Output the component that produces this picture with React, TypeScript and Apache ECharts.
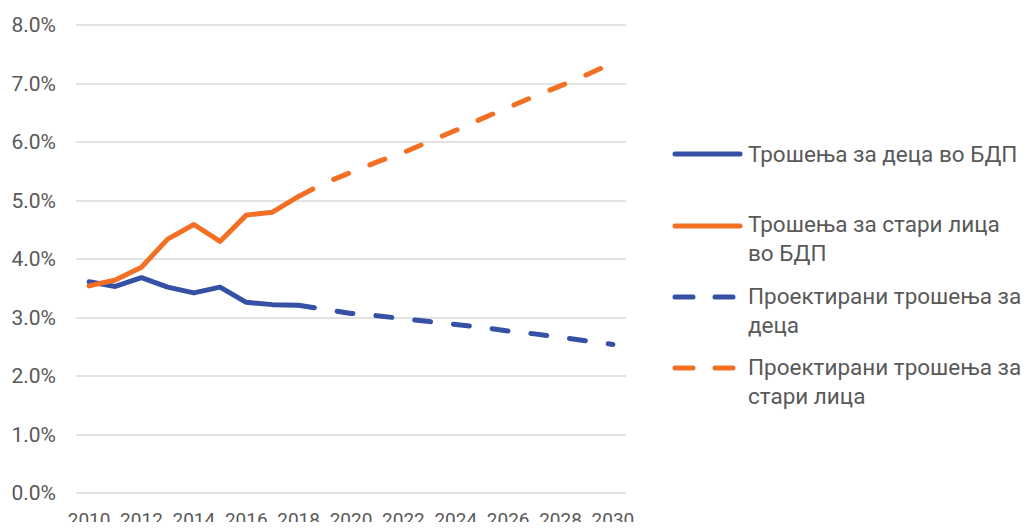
import React, { useEffect, useRef } from "react";
import * as echarts from "echarts";

const years = [
  "2010", "2011", "2012", "2013", "2014", "2015", "2016", "2017", "2018", "2019", "2020",
  "2021", "2022", "2023", "2024", "2025", "2026", "2027", "2028", "2029", "2030",
];

// actual spending (% of GDP), 2010-2018
const childActual = [3.61, 3.53, 3.68, 3.52, 3.42, 3.52, 3.26, 3.22, 3.21];
const elderlyActual = [3.54, 3.64, 3.86, 4.34, 4.59, 4.3, 4.75, 4.8, 5.07];
// projections, 2018-2030
const childProjected = [3.21, 3.14, 3.07, 3.03, 2.98, 2.93, 2.88, 2.83, 2.77, 2.72, 2.66, 2.6, 2.54];
const elderlyProjected = [5.07, 5.3, 5.48, 5.66, 5.82, 6.01, 6.2, 6.4, 6.59, 6.78, 6.96, 7.15, 7.35];

const yTicks = [0, 1, 2, 3, 4, 5, 6, 7, 8];

const seriesNames = [
  "Трошења за деца во БДП",
  "Трошења за стари лица во БДП",
  "Проектирани трошења за деца",
  "Проектирани трошења за стари лица",
];
const legendLabels = [
  "Трошења за деца во БДП",
  "Трошења за стари лица\nво БДП",
  "Проектирани трошења за\nдеца",
  "Проектирани трошења за\nстари лица",
];

const BLUE = "#3550A5";
const ORANGE = "#F36F24";
const TEXT = "#595959";
const FONT = "Roboto, 'Noto Sans', sans-serif";

const padActual = (arr: number[]) => years.map((_, i) => (i < arr.length ? arr[i] : null));
const padProjected = (arr: number[]) => {
  const start = years.length - arr.length;
  return years.map((_, i) => (i >= start ? arr[i - start] : null));
};

export default function App() {
  const ref = useRef<HTMLDivElement>(null);

  useEffect(() => {
    if (!ref.current) return;
    const chart = echarts.init(ref.current, undefined, { renderer: "svg" });

    const legendRows = [
      { y: 154, textY: 154, color: BLUE, dashed: false },
      { y: 226, textY: 224, color: ORANGE, dashed: false },
      { y: 297, textY: 296, color: BLUE, dashed: true },
      { y: 368, textY: 367, color: ORANGE, dashed: true },
    ];

    const graphic: any[] = [];
    legendRows.forEach((r, i) => {
      graphic.push({
        type: "line",
        shape: { x1: 675, y1: r.y, x2: 740, y2: r.y },
        style: {
          stroke: r.color,
          lineWidth: 5,
          lineCap: "round",
          lineDash: r.dashed ? [18, 22] : null,
        },
        silent: true,
      });
      graphic.push({
        type: "text",
        x: 748,
        y: r.textY - 14.5,
        style: {
          text: legendLabels[i],
          fill: TEXT,
          font: `22.5px ${FONT}`,
          lineHeight: 29,
          verticalAlign: "top",
          align: "left",
        },
        silent: true,
      });
    });

    const dash = [16, 23];

    chart.setOption({
      animation: false,
      backgroundColor: "#ffffff",
      textStyle: { fontFamily: FONT },
      grid: { left: 76, right: 404, top: 25, bottom: 37, containLabel: false },
      xAxis: {
        type: "category",
        data: years,
        boundaryGap: true,
        axisLine: { show: false },
        axisTick: { show: false },
        axisLabel: {
          interval: 1,
          color: TEXT,
          fontSize: 19,
          fontFamily: FONT,
          margin: 17,
        },
        splitLine: { show: false },
      },
      yAxis: {
        type: "value",
        min: yTicks[0],
        max: yTicks[yTicks.length - 1],
        interval: 1,
        axisLine: { show: false },
        axisTick: { show: false },
        axisLabel: {
          color: TEXT,
          fontSize: 21,
          fontFamily: FONT,
          margin: 20,
          formatter: (v: number) => v.toFixed(1) + "%",
        },
        splitLine: { lineStyle: { color: "#D9D9D9", width: 1.5 } },
      },
      series: [
        {
          name: seriesNames[0],
          type: "line",
          data: padActual(childActual),
          showSymbol: false,
          lineStyle: { color: BLUE, width: 5, cap: "round", join: "round" },
          itemStyle: { color: BLUE },
          z: 3,
        },
        {
          name: seriesNames[1],
          type: "line",
          data: padActual(elderlyActual),
          showSymbol: false,
          lineStyle: { color: ORANGE, width: 5, cap: "round", join: "round" },
          itemStyle: { color: ORANGE },
          z: 4,
        },
        {
          name: seriesNames[2],
          type: "line",
          data: padProjected(childProjected),
          showSymbol: false,
          lineStyle: { color: BLUE, width: 5, type: dash, cap: "round", join: "round" },
          itemStyle: { color: BLUE },
          z: 3,
        },
        {
          name: seriesNames[3],
          type: "line",
          data: padProjected(elderlyProjected),
          showSymbol: false,
          lineStyle: { color: ORANGE, width: 5, type: dash, cap: "round", join: "round" },
          itemStyle: { color: ORANGE },
          z: 4,
        },
      ],
      graphic,
    });

    return () => chart.dispose();
  }, []);

  return <div ref={ref} style={{ width: 1030, height: 530, margin: -8 }} />;
}
